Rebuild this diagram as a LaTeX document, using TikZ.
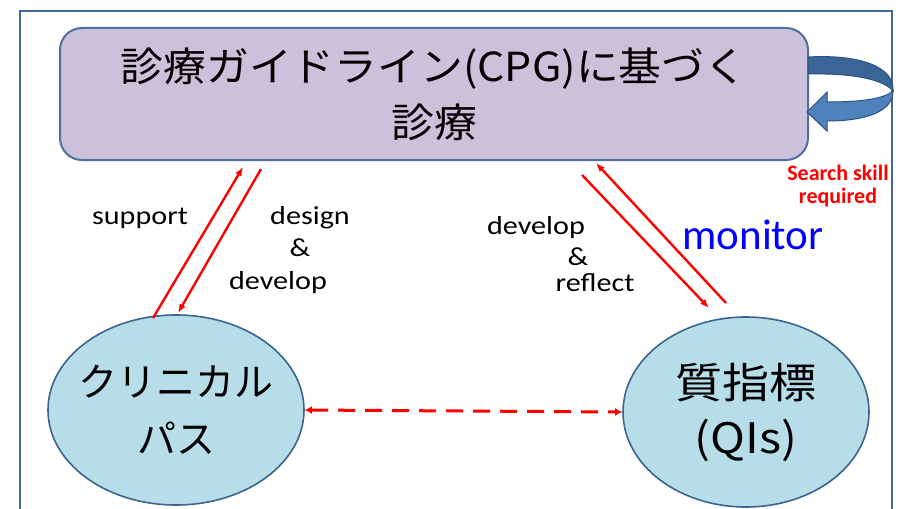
\documentclass[tikz,border=0pt]{standalone}
\usepackage{fontspec}
\setmainfont{Carlito}
\newfontfamily\lat[FakeStretch=1.16]{Carlito}
\newfontfamily\cjkn{Noto Sans CJK JP}
\newfontfamily\cjk[FakeStretch=1.07]{Noto Sans CJK JP}
\newfontfamily\cjkw[FakeStretch=1.12]{Noto Sans CJK JP}
\usetikzlibrary{arrows.meta,shapes.geometric}
\definecolor{boxfill}{HTML}{CCC1DA}
\definecolor{boxline}{HTML}{4F6F9F}
\definecolor{ellfill}{HTML}{B7DDE8}
\definecolor{ellline}{HTML}{3C6491}
\definecolor{frameline}{HTML}{41679A}
\definecolor{arrdark}{HTML}{3A6597}
\definecolor{arrlight}{HTML}{4F81BD}
\definecolor{arredge}{HTML}{2F5380}
\tikzset{
  redarrow/.style={draw=red, line width=2.4pt, -{Latex[length=9pt,width=7pt]}},
  dasharrow/.style={draw=red, line width=3pt, dash pattern=on 17pt off 10pt, {Latex[length=7pt,width=8pt]}-{Latex[length=7pt,width=8pt]}},
  lbl/.style={font=\lat\fontsize{26}{28}\selectfont, inner sep=0pt, anchor=base},
  ellnode/.style={ellipse, draw=ellline, line width=1.6pt, fill=ellfill, minimum width=256pt, minimum height=190pt, inner sep=0pt},
  elltext/.style={inner sep=0pt, align=center}
}
\begin{document}
\begin{tikzpicture}[x=1pt,y=-1pt]
\useasboundingbox (0,0) rectangle (901,508);
\fill[white] (0,0) rectangle (901,508);
% outer frame
\draw[frameline, line width=2pt] (20,530) -- (20,11) -- (892,11) -- (892,530);
% top box
\node[draw=boxline, line width=2pt, fill=boxfill, rounded corners=22pt, minimum width=748pt, minimum height=132pt, inner sep=0pt, align=center,
  font=\cjk\fontsize{40}{56}\selectfont] (cpg) at (434,94) {診療ガイドライン(CPG)に基づく\\診療};
% curved arrow (back band)
\path[fill=arrdark, draw=arredge, line width=1pt]
  (808,57) .. controls (862,54) and (895,68) .. (893,91)
  .. controls (884,80) and (855,73) .. (808,74) -- cycle;
% front band with head
\path[fill=arrlight, draw=arredge, line width=1pt]
  (893,91) .. controls (893,112) and (865,121) .. (827,121)
  -- (827,131) -- (807,112) -- (827,92) -- (827,102)
  .. controls (860,102) and (884,99) .. (893,91) -- cycle;
% ellipses
\node[ellnode] (cp) at (176,410) {};
\node[elltext, font=\cjkn\fontsize{39}{57}\selectfont] (cpt) at (cp.center) {クリニカル\\パス};
\node[ellnode, minimum width=246pt] (qi) at (746,412) {};
\node[elltext, font=\cjkw\fontsize{42}{55}\selectfont] (qit) at (qi.center) {質指標\\(QIs)};
% coordinates for connectors
\coordinate (a1s) at (153,318);
\coordinate (a1e) at (243,167);
\coordinate (a2s) at (261,169);
\coordinate (a2e) at (178,313);
\coordinate (b1s) at (582,175);
\coordinate (b1e) at (709,308);
\coordinate (b2s) at (726,303);
\coordinate (b2e) at (596,163);
\draw[redarrow] (a1s) -- (a1e);
\draw[redarrow] (a2s) -- (a2e);
\draw[redarrow] (b1s) -- (b1e);
\draw[redarrow] (b2s) -- (b2e);
\draw[dasharrow] (cp.east) -- (qi.west);
% labels
\node[lbl] (sup) at (140,224) {support};
\node[lbl] (ds1) at (310,224) {design};
\node[lbl] (ds2) at (300,256) {\&};
\node[lbl] (ds3) at (278,289) {develop};
\node[lbl] (dr1) at (536,234) {develop};
\node[lbl] (dr2) at (578,265) {\&};
\node[lbl] (dr3) at (595,291) {reflect};
\node[font=\fontsize{43}{44}\selectfont, text=blue, inner sep=0pt, anchor=base] (mon) at (753,249) {monitor};
\node[font=\bfseries\fontsize{22}{22}\selectfont, text=red, inner sep=0pt, anchor=base] (ssr) at (838,180) {Search skill};
\node[font=\bfseries\fontsize{22}{22}\selectfont, text=red, inner sep=0pt, anchor=base] (ssr2) at (838,203) {required};
\end{tikzpicture}
\end{document}
